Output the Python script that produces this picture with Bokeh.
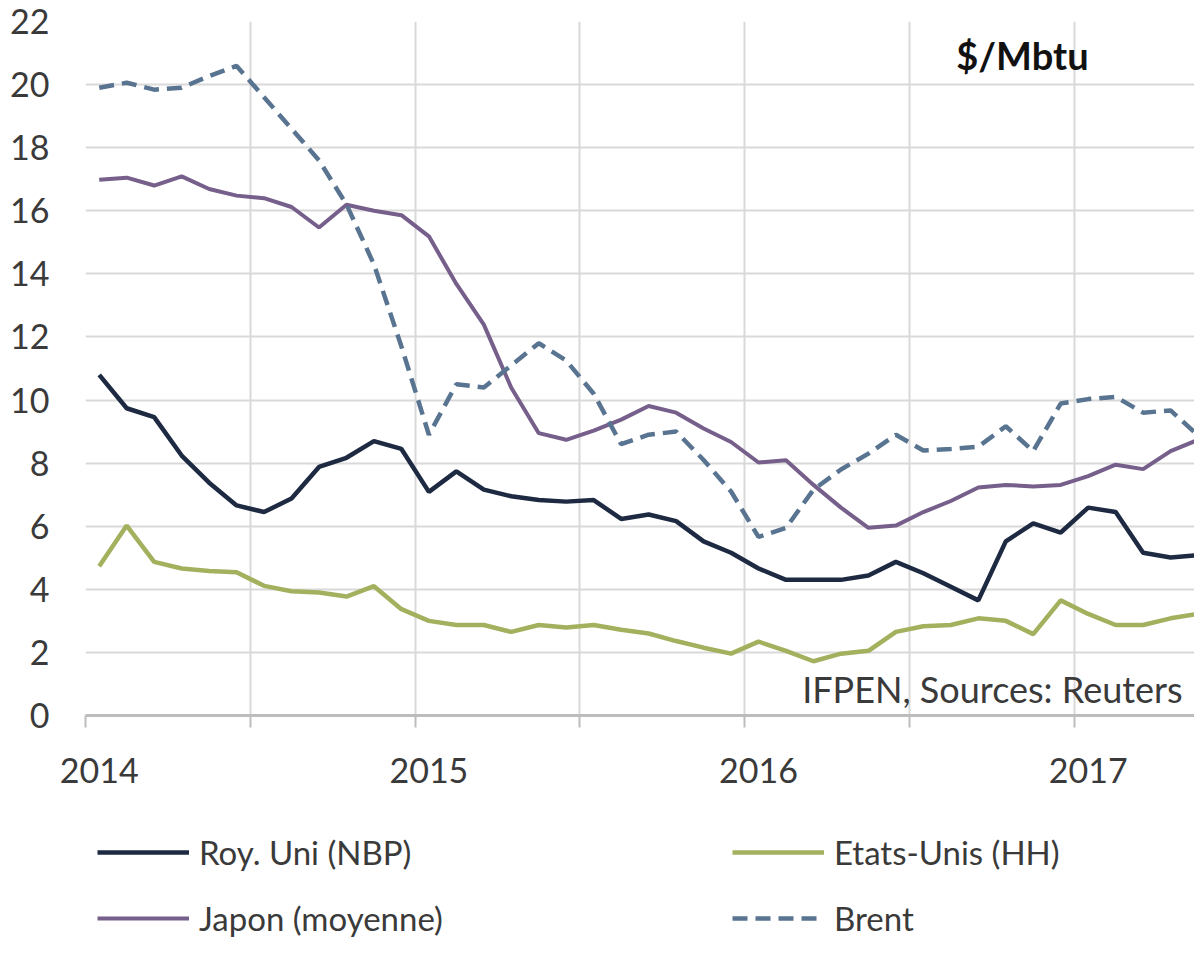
from bokeh.plotting import figure
from bokeh.layouts import column
from bokeh.models import Range1d, FixedTicker, Legend, LegendItem, Label
from bokeh.embed import file_html
from bokeh.resources import INLINE

# ---- data (monthly, Jan 2014 .. May 2017), $/Mbtu ----
month_index = list(range(41))
year_ticks = [0, 12, 24, 36]
year_labels = ["2014", "2015", "2016", "2017"]
half_year_bounds = [-0.5, 5.5, 11.5, 17.5, 23.5, 29.5, 35.5]
y_ticks = [0, 2, 4, 6, 8, 10, 12, 14, 16, 18, 20, 22]

nbp = [10.8, 9.74, 9.46, 8.24, 7.38, 6.66, 6.45, 6.88, 7.88, 8.17,
       8.7, 8.45, 7.09, 7.74, 7.16, 6.95, 6.83, 6.78, 6.83, 6.23,
       6.37, 6.16, 5.52, 5.16, 4.66, 4.3, 4.3, 4.3, 4.44, 4.87,
       4.51, 4.08, 3.65, 5.52, 6.09, 5.8, 6.59, 6.45, 5.16, 5.01, 5.08]
hh = [4.73, 6.02, 4.87, 4.66, 4.58, 4.54, 4.11, 3.94, 3.9, 3.77,
      4.1, 3.37, 3.0, 2.87, 2.87, 2.65, 2.87, 2.79, 2.87, 2.72,
      2.6, 2.36, 2.15, 1.96, 2.34, 2.05, 1.72, 1.96, 2.05, 2.65,
      2.83, 2.87, 3.08, 3.0, 2.58, 3.65, 3.22, 2.87, 2.87, 3.08, 3.22]
japon = [16.98, 17.05, 16.8, 17.09, 16.69, 16.48, 16.4, 16.12, 15.47, 16.19,
         16.0, 15.86, 15.19, 13.68, 12.39, 10.39, 8.95, 8.74, 9.03, 9.38,
         9.81, 9.6, 9.1, 8.67, 8.02, 8.09, 7.31, 6.59, 5.95, 6.02,
         6.45, 6.8, 7.23, 7.31, 7.26, 7.31, 7.59, 7.95, 7.81, 8.38, 8.74]
brent = [19.9, 20.06, 19.84, 19.9, 20.27, 20.59, 19.6, 18.6, 17.6, 16.2,
         14.3, 11.7, 8.9, 10.5, 10.4, 11.1, 11.8, 11.25, 10.2, 8.6,
         8.9, 9.0, 8.1, 7.1, 5.66, 5.95, 7.16, 7.8, 8.3, 8.9,
         8.4, 8.45, 8.52, 9.17, 8.38, 9.89, 10.03, 10.1, 9.6, 9.67, 8.88]

series_names = ["Roy. Uni (NBP)", "Etats-Unis (HH)", "Japon (moyenne)", "Brent"]
unit_label = "$/Mbtu"
source_label = "IFPEN, Sources: Reuters"

FONT = "Lato"
TXT = "#3a3a3a"
GRID = "#d9d9d9"
STYLES = {
    "nbp": dict(line_color="#1d2a42", line_width=4.5),
    "hh": dict(line_color="#a3b15e", line_width=4.5),
    "jp": dict(line_color="#765f8a", line_width=4),
    "br": dict(line_color="#587490", line_width=4.5, line_dash="15 8"),
}

# ---------------- main chart ----------------
p = figure(width=1194, height=800, output_backend="svg", toolbar_location=None,
           x_range=Range1d(-0.5, 39.87), y_range=Range1d(0, 22),
           min_border_left=85, min_border_right=0, min_border_top=21,
           min_border_bottom=85)
p.outline_line_color = None
p.background_fill_color = "white"
p.border_fill_color = "white"

p.xaxis.ticker = FixedTicker(ticks=year_ticks, minor_ticks=half_year_bounds)
p.xaxis.major_label_overrides = {t: l for t, l in zip(year_ticks, year_labels)}
p.xaxis.major_tick_line_color = None
p.xaxis.major_tick_out = 0
p.xaxis.major_tick_in = 0
p.xaxis.minor_tick_line_color = "#bdbdbd"
p.xaxis.minor_tick_line_width = 2
p.xaxis.minor_tick_out = 12
p.xaxis.minor_tick_in = 0
p.xaxis.axis_line_color = "#bdbdbd"
p.xaxis.axis_line_width = 3
p.xaxis.major_label_standoff = 30
p.xaxis.major_label_text_font = FONT
p.xaxis.major_label_text_font_size = "34px"
p.xaxis.major_label_text_color = TXT

p.yaxis.ticker = FixedTicker(ticks=y_ticks)
p.yaxis.axis_line_color = None
p.yaxis.major_tick_line_color = None
p.yaxis.minor_tick_line_color = None
p.yaxis.major_tick_out = 0
p.yaxis.major_label_standoff = 36
p.yaxis.major_label_text_font = FONT
p.yaxis.major_label_text_font_size = "34px"
p.yaxis.major_label_text_color = TXT

p.xgrid.grid_line_color = None
p.xgrid.minor_grid_line_color = GRID
p.xgrid.minor_grid_line_width = 2
p.ygrid.grid_line_color = GRID
p.ygrid.grid_line_width = 2

p.line(month_index, nbp, **STYLES["nbp"])
p.line(month_index, hh, **STYLES["hh"])
p.line(month_index, japon, **STYLES["jp"])
p.line(month_index, brent, **STYLES["br"])

p.add_layout(Label(x=31.2, y=20.95, text=unit_label, text_font=FONT,
                   text_font_size="38px", text_font_style="bold",
                   text_color="#111111", text_baseline="middle",
                   text_align="left"))
p.add_layout(Label(x=39.44, y=0.85, text=source_label, text_font=FONT,
                   text_font_size="36px", text_color=TXT,
                   text_baseline="middle", text_align="right"))

# ---------------- legend strip ----------------
lg = figure(width=1194, height=139, output_backend="svg", toolbar_location=None,
            x_axis_type=None, y_axis_type=None,
            x_range=Range1d(0, 1), y_range=Range1d(100, 101),
            min_border_left=85, min_border_right=0, min_border_top=32,
            min_border_bottom=0)
lg.outline_line_color = None
lg.background_fill_color = "white"
lg.border_fill_color = "white"

l_nbp = lg.line(month_index, nbp, **STYLES["nbp"])
l_hh = lg.line(month_index, hh, **STYLES["hh"])
l_jp = lg.line(month_index, japon, **STYLES["jp"])
l_br = lg.line(month_index, brent, **STYLES["br"])

legend_style = dict(glyph_width=92, glyph_height=40, label_height=40,
                    label_standoff=10, spacing=26, padding=0, margin=0,
                    border_line_color=None, background_fill_alpha=0,
                    label_text_font=FONT, label_text_font_size="33px",
                    label_text_color=TXT, orientation="vertical")
leg1 = Legend(items=[LegendItem(label=series_names[0], renderers=[l_nbp]),
                     LegendItem(label=series_names[2], renderers=[l_jp])],
              location=(12, 1), **legend_style)
leg2 = Legend(items=[LegendItem(label=series_names[1], renderers=[l_hh]),
                     LegendItem(label=series_names[3], renderers=[l_br])],
              location=(647, 1), **legend_style)
lg.add_layout(leg1)
lg.add_layout(leg2)

layout = column(p, lg, spacing=0)
open("out.html", "w").write(file_html(layout, INLINE))
